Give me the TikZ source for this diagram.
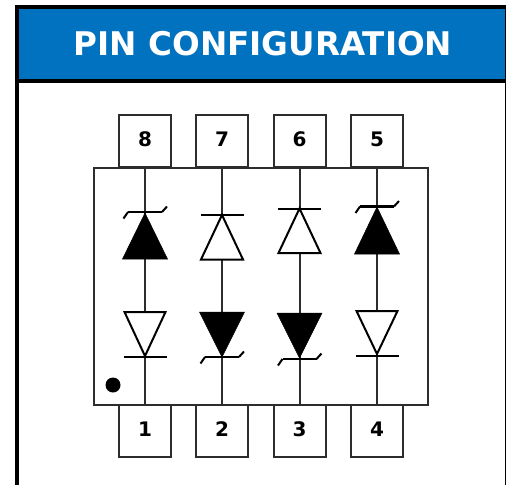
\documentclass[tikz,border=0pt]{standalone}
\usepackage{fontspec}
\setmainfont{DejaVu Sans}
\usepackage{tikz}
\definecolor{headerblue}{RGB}{0,114,192}
\definecolor{pinline}{RGB}{45,45,45}
\newcommand{\zenerbar}[2]{\draw[barline, line width=2.8pt] ({#1-17},#2) -- ({#1+17},#2);
	\draw[barline] ({#1-21.5},{#2+6.5}) -- ({#1-17},#2) ({#1+17},#2) -- ({#1+22},{#2-5.5});}
\newcommand{\plainbar}[2]{\draw[barline] ({#1-21.5},#2) -- ({#1+21.5},#2);}
\newcommand{\diode}[5]{\draw[#5] (#1,#2) -- ({#1-#4},#3) -- ({#1+#4},#3) -- cycle;}

\begin{document}
\begin{tikzpicture}[
	x=1pt, y=-1pt,
	pinnode/.style={rectangle, draw=pinline, line width=2pt, minimum size=52pt, inner sep=0pt, text height=14.6pt, text depth=3pt, font=\bfseries\fontsize{20}{20}\selectfont},
	bodynode/.style={rectangle, draw=pinline, line width=2pt, minimum width=334.5pt, minimum height=237pt, inner sep=0pt},
	titlenode/.style={text=white, font=\bfseries\fontsize{32.6}{32.6}\selectfont},
	wire/.style={draw=pinline, line width=2pt},
	barline/.style={draw=black, line width=2pt, line join=round},
	hollow/.style={draw=black, fill=white, line width=2pt, line join=miter},
	solid/.style={draw=black, fill=black, line width=0.5pt},
	]
	\useasboundingbox (0,0) rectangle (506,485);
	%Frame and header
	\fill[headerblue] (19,9) rectangle (505,79);
	\fill[black] (15,5) rectangle (506,9);
	\fill[black] (15,79) rectangle (506,83);
	\fill[black] (15,5) rectangle (19,485);
	\fill[black] (504.7,5) rectangle (506,485);
	\node[titlenode] (title) at (263,43.5) {PIN CONFIGURATION};

	%Nodes
	\node[bodynode] (body) at (260.75,286) {};

	\node[pinnode] (pin8) at (145,141) {8};
	\node[pinnode] (pin7) at (222,141) {7};
	\node[pinnode] (pin6) at (299.5,141) {6};
	\node[pinnode] (pin5) at (377,141) {5};

	\node[pinnode] (pin1) at (145,430.5) {1};
	\node[pinnode] (pin2) at (222,430.5) {2};
	\node[pinnode] (pin3) at (299.5,430.5) {3};
	\node[pinnode] (pin4) at (377,430.5) {4};

	\node[circle, fill=black, minimum size=15pt, inner sep=0pt] (dot) at (113,385) {};

	%Wires
	\draw[wire] (pin8.south) -- (pin1.north);
	\draw[wire] (pin7.south) -- (pin2.north);
	\draw[wire] (pin6.south) -- (pin3.north);
	\draw[wire] (pin5.south) -- (pin4.north);

	%Upper diodes
	\diode{145}{213}{259}{22.5}{solid}
	\zenerbar{145}{212}
	\diode{222}{215}{259.5}{21}{hollow}
	\plainbar{222}{215}
	\diode{299.5}{208.5}{253}{21}{hollow}
	\plainbar{299.5}{208.5}
	\diode{377}{207}{254}{22.5}{solid}
	\zenerbar{377}{206.5}

	%Lower diodes
	\diode{145}{356}{312}{20.5}{hollow}
	\plainbar{145}{357}
	\diode{222}{357}{312}{22.5}{solid}
	\zenerbar{222}{357}
	\diode{299.5}{358}{313}{22.5}{solid}
	\zenerbar{299.5}{359}
	\diode{377}{354}{311}{20.5}{hollow}
	\plainbar{377}{355.5}
\end{tikzpicture}
\end{document}
